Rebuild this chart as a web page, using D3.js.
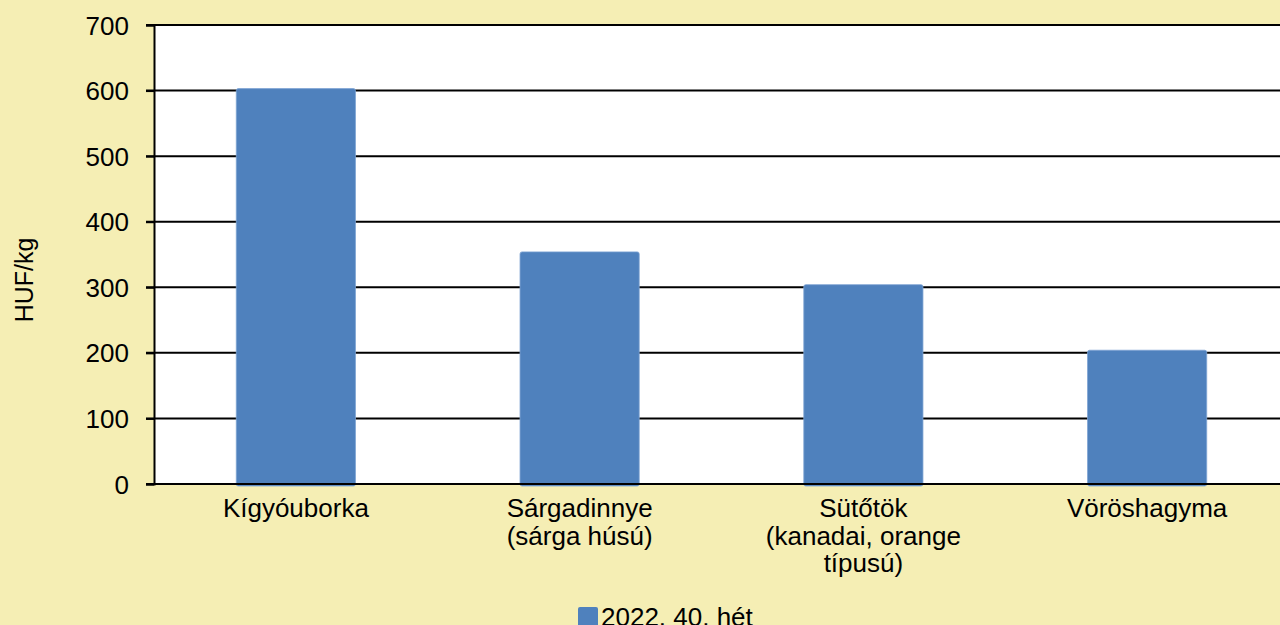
<!DOCTYPE html>
<html>
<head>
<meta charset="utf-8">
<script src="https://cdn.jsdelivr.net/npm/d3@7/dist/d3.min.js"></script>
<style>
  html, body { margin: 0; padding: 0; background: #f5eeb4; overflow: hidden; }
  svg { display: block; font-family: "Liberation Sans", Arial, sans-serif; }
</style>
</head>
<body>
<svg id="chart" width="1280" height="625"></svg>
<script>
// data
const categories = [
  ["Kígyóuborka"],
  ["Sárgadinnye", "(sárga húsú)"],
  ["Sütőtök", "(kanadai, orange", "típusú)"],
  ["Vöröshagyma"]
];
const values = [603, 354, 304, 204];
const yTicks = [0, 100, 200, 300, 400, 500, 600, 700];
const seriesName = "2022. 40. hét";
const yTitle = "HUF/kg";

const plotL = 154, plotT = 25, plotB = 484, plotR = 1289;
const fontSize = 26;
const svg = d3.select("#chart");

const x = d3.scaleBand().domain(d3.range(categories.length)).range([plotL, plotR]).paddingInner(0.58).paddingOuter(0.29);
const y = d3.scaleLinear().domain([0, 700]).range([plotB, plotT]);

// plot area
svg.append("rect").attr("x", plotL).attr("y", plotT).attr("width", plotR - plotL).attr("height", plotB - plotT).attr("fill", "#fff");

// gridlines
svg.append("g").selectAll("line").data(yTicks.filter(d => d > 0)).join("line")
  .attr("x1", plotL - 8).attr("x2", plotR)
  .attr("y1", d => y(d)).attr("y2", d => y(d))
  .attr("stroke", "#000").attr("stroke-width", 2);

// bars
svg.append("g").selectAll("rect").data(values).join("rect")
  .attr("x", (d, i) => x(i))
  .attr("y", d => y(d))
  .attr("width", x.bandwidth())
  .attr("height", d => plotB + 2 - y(d))
  .attr("rx", 2)
  .attr("fill", "#4f81bd")
  .attr("stroke", "#7ea3d3").attr("stroke-width", 0.8);

// y axis
const yAxis = svg.append("g").attr("transform", `translate(${plotL},0)`)
  .call(d3.axisLeft(y).tickValues(yTicks).tickSize(8).tickPadding(17));
yAxis.select(".domain").attr("stroke", "#000").attr("stroke-width", 2);
yAxis.selectAll(".tick line").attr("stroke", "#000").attr("stroke-width", 2);
yAxis.selectAll(".tick text").attr("font-size", fontSize).attr("fill", "#000")
  .attr("font-family", "Liberation Sans, Arial, sans-serif").attr("dy", "0.35em");

// baseline
svg.append("line").attr("x1", plotL - 8).attr("x2", plotR).attr("y1", plotB).attr("y2", plotB)
  .attr("stroke", "#000").attr("stroke-width", 2);

// category labels
const catG = svg.append("g").selectAll("text").data(categories).join("text")
  .attr("text-anchor", "middle").attr("font-size", fontSize).attr("fill", "#000")
  .attr("x", (d, i) => x(i) + x.bandwidth() / 2)
  .attr("y", 517);
catG.selectAll("tspan").data(d => d).join("tspan")
  .attr("x", function () { return d3.select(this.parentNode).attr("x"); })
  .attr("dy", (d, i) => i === 0 ? 0 : 27.5)
  .text(d => d);

// y title
svg.append("text").attr("transform", "translate(33,280) rotate(-90)")
  .attr("text-anchor", "middle").attr("font-size", fontSize - 1).attr("fill", "#000").text(yTitle);

// legend (cut off by the bottom edge, as in the original)
svg.append("rect").attr("x", 578).attr("y", 607).attr("width", 20).attr("height", 20).attr("rx", 2).attr("fill", "#4f81bd");
svg.append("text").attr("x", 601).attr("y", 626).attr("font-size", fontSize).attr("fill", "#000").text(seriesName);
</script>
</body>
</html>
